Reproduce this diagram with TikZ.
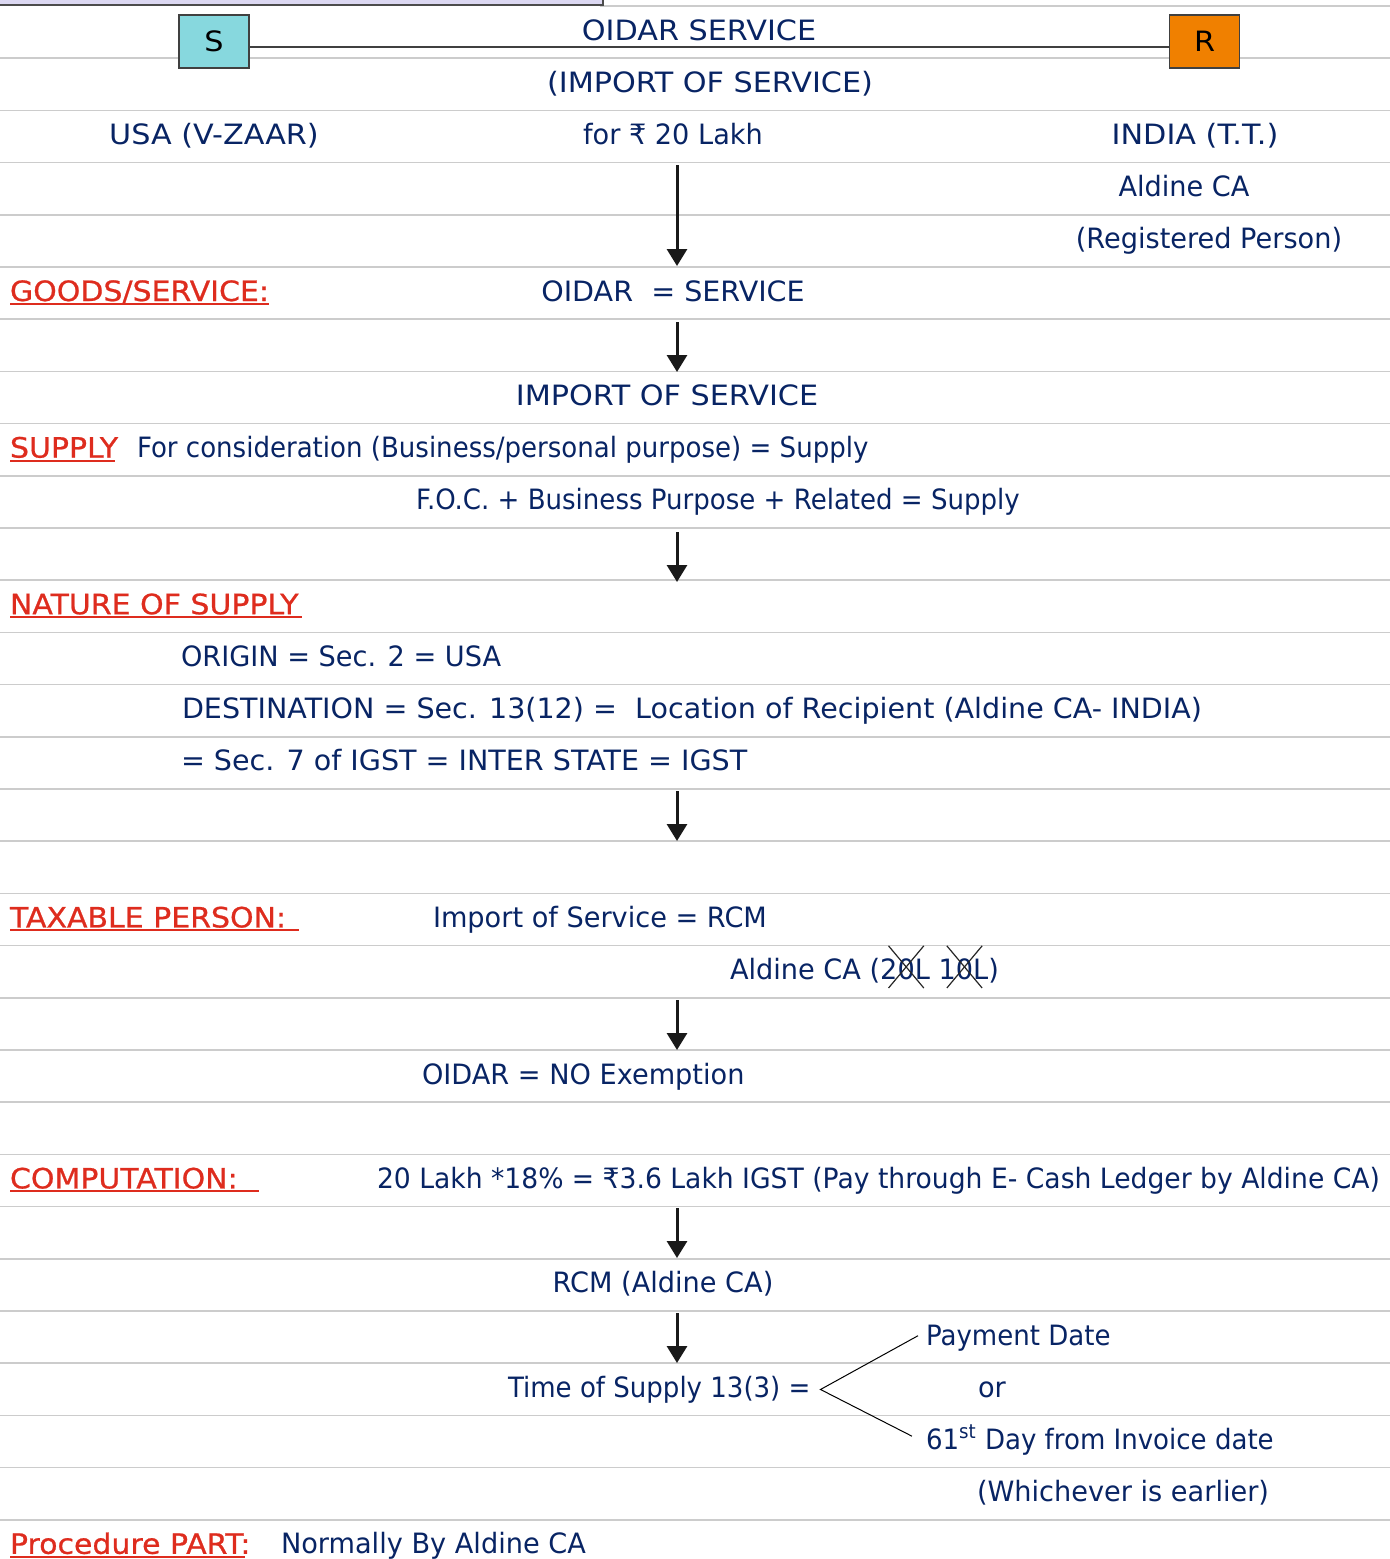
\documentclass[tikz,border=0pt]{standalone}
\usepackage{fontspec}
\setmainfont{DejaVu Sans}[FakeStretch=0.96]
\newfontfamily\fA{DejaVu Sans}[FakeStretch=0.93]
\newfontfamily\fB{DejaVu Sans}[FakeStretch=0.97]
\newfontfamily\fC{DejaVu Sans}[FakeStretch=1.02]
\newfontfamily\fD{DejaVu Sans}[FakeStretch=1.08]
\newfontfamily\fE{DejaVu Sans}[FakeStretch=0.95]
\newfontfamily\fH{DejaVu Sans}[FakeStretch=1.07, FakeBold=0.8]
\usetikzlibrary{arrows.meta}
\definecolor{navy}{RGB}{8,36,100}
\definecolor{headred}{RGB}{222,44,30}
\definecolor{gridgray}{RGB}{204,204,204}
\definecolor{sfill}{RGB}{135,216,222}
\definecolor{rfill}{RGB}{240,128,0}
\definecolor{lav}{RGB}{220,216,242}
\tikzset{
  txt/.style={inner sep=0pt, outer sep=0pt, text=navy, font=\fontsize{14}{16}\selectfont\fB},
  wa/.style={txt, font=\fontsize{14}{16}\selectfont\fA},
  wc/.style={txt, font=\fontsize{14}{16}\selectfont\fC},
  wd/.style={txt, font=\fontsize{14}{16}\selectfont\fD},
  we/.style={txt, font=\fontsize{14}{16}\selectfont\fE},
  head/.style={txt, text=headred, font=\fontsize{14}{16}\selectfont\fH},
  ul/.style={draw=headred, line width=1pt},
  rule/.style={draw=gridgray, line width=0.8pt},
  partybox/.style={draw=black!75, line width=0.6pt, minimum width=35pt, minimum height=26.5pt, inner sep=0pt, font=\fontsize{14}{16}\selectfont\fD, text=black},
  flow/.style={draw=black!90, line width=1.5pt, -{Triangle[length=8.5pt,width=10pt]}},
  link/.style={draw=black!75, line width=0.7pt},
  thin/.style={draw=black, line width=0.5pt},
  xmark/.style={draw=black!85, line width=0.6pt}
}
\begin{document}
\begin{tikzpicture}[x=0.5pt,y=-0.5pt]
\useasboundingbox (0,0) rectangle (1390,1559);
% ruled lines
\foreach \k in {1,...,29} \draw[rule] (0,{6+52.2*\k}) -- (1390,{6+52.2*\k});
\draw[rule] (600,6) -- (1390,6);
% top lavender bar
\fill[lav] (0,-2) rectangle (603,5);
\draw[draw=black!70, line width=1pt] (0,5) -- (603,5) -- (603,-2);
% parties
\node[partybox, fill=sfill] (S) at (214,41.5) {S};
\node[partybox, fill=rfill] (R) at (1204.5,41.5) {R};
\draw[link] (S.east |- 0,47) -- (R.west |- 0,47);
\node[wd, anchor=base] (t0) at (699,{40+52.2*0}) {OIDAR SERVICE};
\node[wd, anchor=base] (t1) at (710,{40+52.2*1}) {(IMPORT OF SERVICE)};
\node[wd, anchor=base] (usa) at (214,{40+52.2*2}) {USA (V-ZAAR)};
\node[txt, anchor=base] (amt) at (673,{40+52.2*2}) {for ₹ 20 Lakh};
\node[wd, anchor=base] (ind) at (1195,{40+52.2*2}) {INDIA (T.T.)};
\node[txt, anchor=base] (ald) at (1184,{40+52.2*3}) {Aldine CA};
\node[txt, anchor=base] (reg) at (1209,{40+52.2*4}) {(Registered Person)};
% goods / service
\node[head, anchor=base west] (h1) at (10,{40+52.2*5}) {GOODS/SERVICE:};
\draw[ul] (10,{43+52.2*5}) -- (269,{43+52.2*5});
\node[wc, anchor=base] (oid) at (673,{40+52.2*5}) {OIDAR\ \ = SERVICE};
\node[wd, anchor=base] (imp) at (667,{40+52.2*7}) {IMPORT OF SERVICE};
% supply
\node[head, anchor=base west] (h2) at (10,{40+52.2*8}) {SUPPLY};
\draw[ul] (10,{43+52.2*8}) -- (115,{43+52.2*8});
\node[wa, anchor=base west] (cons) at (137,{40+52.2*8}) {For consideration (Business/personal purpose) = Supply};
\node[wa, anchor=base] (foc) at (718,{40+52.2*9}) {F.O.C. + Business Purpose + Related = Supply};
% nature of supply
\node[head, anchor=base west] (h3) at (10,{40+52.2*11}) {NATURE OF SUPPLY};
\draw[ul] (10,{43+52.2*11}) -- (302,{43+52.2*11});
\node[txt, anchor=base west] (orig) at (181,{40+52.2*12}) {ORIGIN = Sec. 2 = USA};
\node[wc, anchor=base west] (dest) at (182,{40+52.2*13}) {DESTINATION = Sec. 13(12) =\ \ Location of Recipient (Aldine CA- INDIA)};
\node[wc, anchor=base west] (sec7) at (181,{40+52.2*14}) {= Sec. 7 of IGST = INTER STATE = IGST};
% taxable person
\node[head, anchor=base west] (h4) at (10,{40+52.2*17}) {TAXABLE PERSON:};
\draw[ul] (10,{43+52.2*17}) -- (299,{43+52.2*17});
\node[txt, anchor=base west] (rcm1) at (433,{40+52.2*17}) {Import of Service = RCM};
\node[txt, anchor=base west] (a1) at (730,{40+52.2*18}) {Aldine CA (2};
\node[txt, anchor=base west] (z1) at (a1.base east) {0};
\node[txt, anchor=base west] (a2) at (z1.base east) {L 1};
\node[txt, anchor=base west] (z2) at (a2.base east) {0};
\node[txt, anchor=base west] (a3) at (z2.base east) {L)};
\draw[xmark] ([shift={(-9,-13)}]z1.north west) -- ([shift={(9,8)}]z1.south east);
\draw[xmark] ([shift={(9,-13)}]z1.north east) -- ([shift={(-9,8)}]z1.south west);
\draw[xmark] ([shift={(-9,-13)}]z2.north west) -- ([shift={(9,8)}]z2.south east);
\draw[xmark] ([shift={(9,-13)}]z2.north east) -- ([shift={(-9,8)}]z2.south west);
\node[txt, anchor=base west] (exm) at (422,{40+52.2*20}) {OIDAR = NO Exemption};
% computation
\node[head, anchor=base west] (h5) at (10,{40+52.2*22}) {COMPUTATION:};
\draw[ul] (10,{43+52.2*22}) -- (259,{43+52.2*22});
\node[we, anchor=base west] (comp) at (377,{40+52.2*22}) {20 Lakh *18\% = ₹3.6 Lakh IGST (Pay through E- Cash Ledger by Aldine CA)};
\node[txt, anchor=base] (rcm2) at (663,{40+52.2*24}) {RCM (Aldine CA)};
% time of supply
\node[wa, anchor=base west] (pd) at (926,{40+52.2*25}) {Payment Date};
\node[wa, anchor=base west] (tos) at (508,{40+52.2*26}) {Time of Supply 13(3) =};
\node[txt, anchor=base west] (or) at (978,{40+52.2*26}) {or};
\node[wa, anchor=base west] (d61) at (926,{40+52.2*27}) {61\textsuperscript{st} Day from Invoice date};
\node[txt, anchor=base west] (earl) at (977,{40+52.2*28}) {(Whichever is earlier)};
\coordinate (fork) at ([xshift=5pt]tos.east);
\draw[thin] ([xshift=-4pt,yshift=1pt]pd.west) -- (fork) -- ([xshift=-7pt,yshift=2pt]d61.west);
% procedure
\node[head, anchor=base west] (h6) at (10,{40+52.2*29}) {Procedure PART:};
\draw[ul] (10,{43+52.2*29}) -- (245,{43+52.2*29});
\node[txt, anchor=base west] (proc) at (281,{40+52.2*29}) {Normally By Aldine CA};
% flow arrows
\coordinate (f1a) at (677,165);  \coordinate (f1b) at (677,266);
\coordinate (f2a) at (677,322);  \coordinate (f2b) at (677,372);
\coordinate (f3a) at (677,532);  \coordinate (f3b) at (677,582);
\coordinate (f4a) at (677,791);  \coordinate (f4b) at (677,841);
\coordinate (f5a) at (677,1000); \coordinate (f5b) at (677,1050);
\coordinate (f6a) at (677,1208); \coordinate (f6b) at (677,1258);
\coordinate (f7a) at (677,1313); \coordinate (f7b) at (677,1363);
\foreach \i in {1,...,7} \draw[flow] (f\i a) -- (f\i b);
\end{tikzpicture}
\end{document}
